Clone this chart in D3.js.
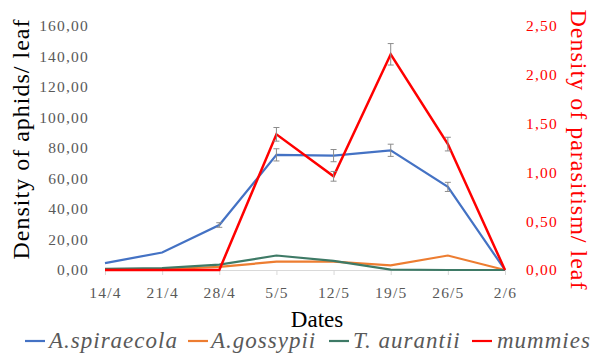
<!DOCTYPE html>
<html><head><meta charset="utf-8">
<script src="https://cdn.jsdelivr.net/npm/d3@7"></script>
<style>body{margin:0;background:#fff}svg{display:block}svg text{font-family:"Liberation Serif","Times New Roman",serif}</style>
</head><body>
<script>
const dates = ["14/4","21/4","28/4","5/5","12/5","19/5","26/5","2/6"];
const spiraecola = [4.5, 11.5, 29.5, 75.5, 75, 78.5, 54.5, 0];
const spiraecolaErr = [0, 0, 1.5, 4, 4, 4, 3, 0];
const gossypii = [0, 0.5, 2, 5.5, 5.5, 3, 9.5, 0];
const aurantii = [0.8, 1.2, 3.5, 9.5, 6, 0.3, 0, 0];
const mummies = [0, 0, 0, 1.39, 0.96, 2.21, 1.29, 0];
const mummiesErr = [0, 0, 0, 0.07, 0.05, 0.11, 0.07, 0];
const leftTicks = [0,20,40,60,80,100,120,140,160];
const rightTicks = [0,0.5,1,1.5,2,2.5];

const W=595,H=353;
const svg=d3.select("body").append("svg").attr("width",W).attr("height",H);
const x=d3.scalePoint().domain(dates).range([105,505]);
const yL=d3.scaleLinear().domain([0,160]).range([270,26]);
const yR=d3.scaleLinear().domain([0,2.5]).range([270,26]);
const fmt=d=>d3.format(".2f")(d).replace(".",",");

// left axis labels
svg.append("g").selectAll("text").data(leftTicks).join("text")
 .attr("x",89).attr("y",d=>yL(d)).attr("dy","0.35em").attr("text-anchor","end")
 .attr("font-size",15.5).attr("letter-spacing",1.2).attr("fill","#595959").text(fmt);
// right axis labels
svg.append("g").selectAll("text").data(rightTicks).join("text")
 .attr("x",526).attr("y",d=>yR(d)).attr("dy","0.35em").attr("text-anchor","start")
 .attr("font-size",15.5).attr("letter-spacing",1.2).attr("fill","#ff0000").text(fmt);

// x axis
const xa=svg.append("g").attr("transform","translate(0,270)")
 .call(d3.axisBottom(x).tickSize(5).tickPadding(8));
xa.attr("font-family",null);
xa.select(".domain").attr("stroke","#d9d9d9");
xa.selectAll(".tick line").attr("stroke","#d9d9d9");
xa.selectAll("text").attr("y",28).attr("dy",null).attr("font-size",15.5).attr("letter-spacing",1.2).attr("fill","#595959");

// titles
svg.append("text").attr("transform","translate(29,139) rotate(-90)").attr("text-anchor","middle")
 .attr("font-size",24).attr("letter-spacing",1).attr("fill","#000").text("Density of aphids/ leaf");
svg.append("text").attr("transform","translate(571,150) rotate(90)").attr("text-anchor","middle")
 .attr("font-size",24).attr("letter-spacing",1).attr("fill","#ff0000").text("Density of parasitism/ leaf");
svg.append("text").attr("x",317).attr("y",327).attr("text-anchor","middle")
 .attr("font-size",23).attr("fill","#000").text("Dates");

const lineL=d3.line().x((d,i)=>x(dates[i])).y(d=>yL(d));
const lineR=d3.line().x((d,i)=>x(dates[i])).y(d=>yR(d));

function errbars(vals,errs,y){
  const g=svg.append("g").attr("stroke","#8c8c8c").attr("stroke-width",1);
  vals.forEach((v,i)=>{ if(!errs[i]) return;
    const cx=x(dates[i]);
    g.append("line").attr("x1",cx).attr("x2",cx).attr("y1",y(v-errs[i])).attr("y2",y(v+errs[i]));
    g.append("line").attr("x1",cx-3).attr("x2",cx+3).attr("y1",y(v-errs[i])).attr("y2",y(v-errs[i]));
    g.append("line").attr("x1",cx-3).attr("x2",cx+3).attr("y1",y(v+errs[i])).attr("y2",y(v+errs[i]));
  });
}

svg.append("path").attr("d",lineL(gossypii)).attr("fill","none").attr("stroke","#ed7d31").attr("stroke-width",2.2);
svg.append("path").attr("d",lineL(aurantii)).attr("fill","none").attr("stroke","#3e7a66").attr("stroke-width",2.2);
svg.append("path").attr("d",lineL(spiraecola)).attr("fill","none").attr("stroke","#4472c4").attr("stroke-width",2.2);
errbars(spiraecola,spiraecolaErr,yL);
svg.append("path").attr("d",lineR(mummies)).attr("fill","none").attr("stroke","#ff0000").attr("stroke-width",2.5);
errbars(mummies,mummiesErr,yR);

// legend
const legend=[["A.spiraecola","#4472c4",25,49],["A.gossypii","#ed7d31",188,211],["T. aurantii","#3e7a66",329,353],["mummies","#ff0000",472,497]];
legend.forEach(([t,c,lx,tx])=>{
  svg.append("line").attr("x1",lx).attr("x2",lx+20).attr("y1",341).attr("y2",341).attr("stroke",c).attr("stroke-width",2.2);
  svg.append("text").attr("x",tx).attr("y",348).attr("font-style","italic")
   .attr("font-size",23).attr("letter-spacing",1).attr("fill","#595959").text(t);
});
</script>
</body></html>
